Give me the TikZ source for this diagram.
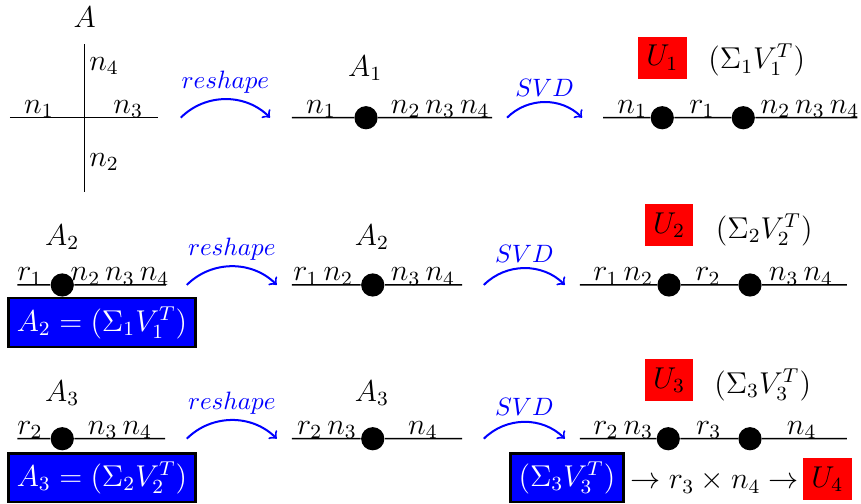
\documentclass[tikz,border=0pt]{standalone}
\usetikzlibrary{arrows}
\tikzset{
    leg/.style={-, semithick},
    dot/.style={circle, fill=black, inner sep=0pt, minimum size=0.325cm},
    lbl/.style={anchor=base, inner sep=1pt, font=\large},
    tname/.style={font=\large},
    flow/.style={->, blue, thick},
    flowtxt/.style={above, blue, inner sep=2pt},
    redbox/.style={fill=red, font=\large},
    bluebox/.style={fill=blue, draw=black, line width=1pt, text=white, font=\large}
}
\begin{document}
\begin{tikzpicture}[scale=1.05]
                \useasboundingbox (0,0) rectangle (11.48,6.72);
                \coordinate (cw) at (0.13,5.15);
                \coordinate (ce) at (2.11,5.15);
                \coordinate (cn) at (1.13,6.13);
                \coordinate (cs) at (1.13,4.16);
                \draw[-, thin] (cw) -- (ce);
                \draw[-, thin] (cn) -- (cs);
                \node[tname] (tA) at (1.13,6.49) {$A$};
                \node[lbl, anchor=west] (tAn4) at (1.15,5.84) {$n_4$};
                \node[lbl] (tAn1) at (0.52,5.21) {$n_1$};
                \node[lbl] (tAn3) at (1.71,5.21) {$n_3$};
                \node[lbl, anchor=west] (tAn2) at (1.15,4.56) {$n_2$};
                \coordinate (rs1a) at (2.41,5.15);
                \coordinate (rs1b) at (3.60,5.15);
                \draw[flow] (rs1a) to[bend left=45] node[flowtxt] (rs1t) {$reshape$} (rs1b);
                \coordinate (a1w) at (3.89,5.15);
                \coordinate (a1e) at (6.56,5.15);
                \node[dot] (a1) at (4.88,5.15) {};
                \draw[leg] (a1w) -- (a1) -- (a1e);
                \node[tname] (a1name) at (4.87,5.81) {$A_1$};
                \node[lbl] (a1l) at (4.28,5.21) {$n_1$};
                \node[lbl] (a1r) at (5.87,5.21) {$n_2\,n_3\,n_4$};
                \coordinate (svd1a) at (6.76,5.15);
                \coordinate (svd1b) at (7.76,5.15);
                \draw[flow] (svd1a) to[bend left=45] node[flowtxt] (svd1t) {$SVD$} (svd1b);
                \node[redbox] (u1) at (8.83,5.95) {$U_1$};
                \node[tname] (sv1) at (10.09,5.92) {$(\Sigma_1 V_1^T)$};
                \coordinate (b1w) at (8.04,5.15);
                \coordinate (b1e) at (11.43,5.15);
                \node[dot] (b1u) at (8.83,5.15) {};
                \node[dot] (b1v) at (9.91,5.15) {};
                \draw[leg] (b1w) -- (b1u) -- (b1v) -- (b1e);
                \node[lbl] (b1l) at (8.43,5.21) {$n_1$};
                \node[lbl] (b1m) at (9.36,5.21) {$r_1$};
                \node[lbl] (b1r) at (10.80,5.21) {$n_2\,n_3\,n_4$};

                \node[tname] (a2name) at (0.83,3.56) {$A_2$};
                \coordinate (a2w) at (0.23,2.92);
                \coordinate (a2e) at (2.21,2.92);
                \node[dot] (a2) at (0.83,2.92) {};
                \draw[leg] (a2w) -- (a2) -- (a2e);
                \node[lbl] (a2l) at (0.40,2.98) {$r_1$};
                \node[lbl] (a2r) at (1.60,2.98) {$n_2\,n_3\,n_4$};
                \node[bluebox] (a2box) at (1.36,2.42) {$A_2 = (\Sigma_1 V_1^T)$};
                \coordinate (rs2a) at (2.49,2.92);
                \coordinate (rs2b) at (3.69,2.92);
                \draw[flow] (rs2a) to[bend left=45] node[flowtxt] (rs2t) {$reshape$} (rs2b);
                \node[tname] (m2name) at (4.96,3.56) {$A_2$};
                \coordinate (m2w) at (3.89,2.92);
                \coordinate (m2e) at (6.16,2.92);
                \node[dot] (m2) at (4.97,2.92) {};
                \draw[leg] (m2w) -- (m2) -- (m2e);
                \node[lbl] (m2l) at (4.31,2.98) {$r_1\,n_2$};
                \node[lbl] (m2r) at (5.64,2.98) {$n_3\,n_4$};
                \coordinate (svd2a) at (6.45,2.92);
                \coordinate (svd2b) at (7.53,2.92);
                \draw[flow] (svd2a) to[bend left=45] node[flowtxt] (svd2t) {$SVD$} (svd2b);
                \node[redbox] (u2) at (8.92,3.72) {$U_2$};
                \node[tname] (sv2) at (10.19,3.66) {$(\Sigma_2 V_2^T)$};
                \coordinate (b2w) at (7.73,2.92);
                \coordinate (b2e) at (11.29,2.92);
                \node[dot] (b2u) at (8.92,2.92) {};
                \node[dot] (b2v) at (10.00,2.92) {};
                \draw[leg] (b2w) -- (b2u) -- (b2v) -- (b2e);
                \node[lbl] (b2l) at (8.31,2.98) {$r_1\,n_2$};
                \node[lbl] (b2m) at (9.44,2.98) {$r_2$};
                \node[lbl] (b2r) at (10.68,2.98) {$n_3\,n_4$};

                \node[tname] (a3name) at (0.83,1.48) {$A_3$};
                \coordinate (a3w) at (0.23,0.87);
                \coordinate (a3e) at (2.20,0.87);
                \node[dot] (a3) at (0.83,0.87) {};
                \draw[leg] (a3w) -- (a3) -- (a3e);
                \node[lbl] (a3l) at (0.40,0.93) {$r_2$};
                \node[lbl] (a3r) at (1.60,0.93) {$n_3\,n_4$};
                \node[bluebox] (a3box) at (1.36,0.35) {$A_3 = (\Sigma_2 V_2^T)$};
                \coordinate (rs3a) at (2.49,0.87);
                \coordinate (rs3b) at (3.69,0.87);
                \draw[flow] (rs3a) to[bend left=45] node[flowtxt] (rs3t) {$reshape$} (rs3b);
                \node[tname] (m3name) at (4.96,1.48) {$A_3$};
                \coordinate (m3w) at (3.89,0.87);
                \coordinate (m3e) at (6.16,0.87);
                \node[dot] (m3) at (4.97,0.87) {};
                \draw[leg] (m3w) -- (m3) -- (m3e);
                \node[lbl] (m3l) at (4.36,0.93) {$r_2\,n_3$};
                \node[lbl] (m3r) at (5.64,0.93) {$n_4$};
                \coordinate (svd3a) at (6.45,0.87);
                \coordinate (svd3b) at (7.53,0.87);
                \draw[flow] (svd3a) to[bend left=45] node[flowtxt] (svd3t) {$SVD$} (svd3b);
                \node[redbox] (u3) at (8.92,1.65) {$U_3$};
                \node[tname] (sv3) at (10.17,1.59) {$(\Sigma_3 V_3^T)$};
                \coordinate (b3w) at (7.73,0.87);
                \coordinate (b3e) at (11.29,0.87);
                \node[dot] (b3u) at (8.91,0.87) {};
                \node[dot] (b3v) at (10.00,0.87) {};
                \draw[leg] (b3w) -- (b3u) -- (b3v) -- (b3e);
                \node[lbl] (b3l) at (8.31,0.93) {$r_2\,n_3$};
                \node[lbl] (b3m) at (9.45,0.93) {$r_3$};
                \node[lbl] (b3r) at (10.69,0.93) {$n_4$};
                \node[bluebox] (sv3box) at (7.56,0.35) {$(\Sigma_3 V_3^T)$};
                \node[tname] (last) at (9.53,0.29) {$\rightarrow r_3 \times n_4 \rightarrow$};
                \node[redbox] (u4) at (11.03,0.33) {$U_4$};
            \end{tikzpicture}
\end{document}
